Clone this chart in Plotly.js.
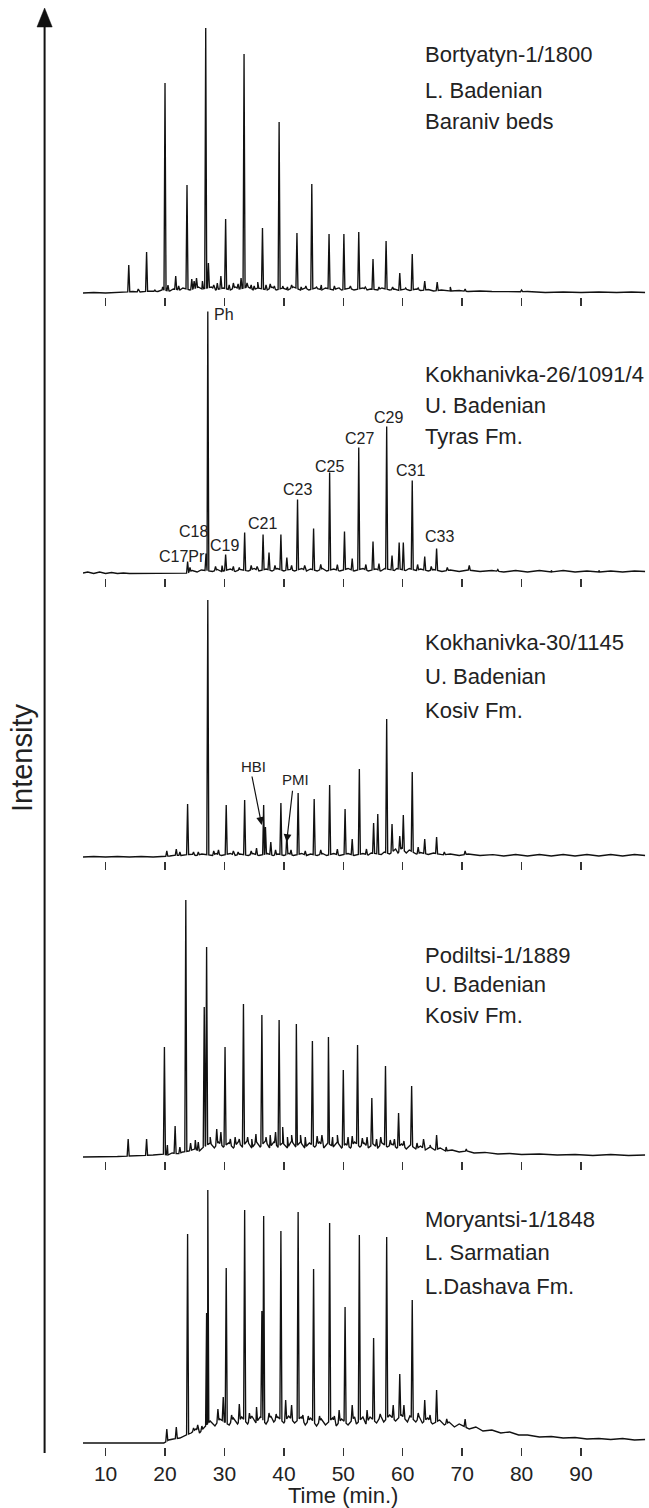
<!DOCTYPE html>
<html>
<head>
<meta charset="utf-8">
<script src="https://cdn.plot.ly/plotly-3.0.1.min.js"></script>
<style>
html,body{margin:0;padding:0;background:#fff;}
#chart{width:649px;height:1508px;}
</style>
</head>
<body>
<div id="chart"></div>
<script>
// ---------------- DATA ----------------
// Time axis
const tickTimes = [10, 20, 30, 40, 50, 60, 70, 80, 90];
const tickLabels = ['10', '20', '30', '40', '50', '60', '70', '80', '90'];
const axisTitle = 'Time (min.)';
const yTitle = 'Intensity';

// Sample captions (3 lines each)
const sampleName = ['Bortyatyn-1/1800', 'Kokhanivka-26/1091/4', 'Kokhanivka-30/1145', 'Podiltsi-1/1889', 'Moryantsi-1/1848'];
const sampleAge  = ['L. Badenian', 'U. Badenian', 'U. Badenian', 'U. Badenian', 'L. Sarmatian'];
const sampleFm   = ['Baraniv beds', 'Tyras Fm.', 'Kosiv Fm.', 'Kosiv Fm.', 'L.Dashava Fm.'];

// Peak labels (panel 2) and compound markers (panel 3)
const peakLabels = ['Ph', 'C17Pr', 'C18', 'C19', 'C21', 'C23', 'C25', 'C27', 'C29', 'C31', 'C33'];
const markerLabels = ['HBI', 'PMI'];
const markerTime = [36.27, 40.47];
const markerLevel = [32, 15];

// Panel 1: Bortyatyn-1/1800 — peak apex times (min) and apex intensities (rel. units)
const bortPeakT = [13.9, 15.5, 16.9, 18.3, 19.6, 20.0, 20.5, 21.8, 22.3, 23.7, 24.5, 24.9, 25.3, 26.3, 26.85, 27.3, 28.2, 28.8, 29.4, 30.2, 30.8, 31.5, 32.3, 32.8, 33.3, 33.8, 34.5, 35.0, 35.6, 36.4, 37.0, 37.7, 38.4, 39.2, 39.8, 40.6, 41.3, 42.2, 42.9, 43.7, 44.7, 45.5, 46.3, 47.6, 48.5, 49.3, 50.1, 51.2, 52.6, 53.7, 55.0, 56.0, 57.2, 58.3, 59.5, 60.5, 61.6, 62.6, 63.7, 65.8, 68.0, 70.5, 80.0];
const bortPeakI = [28, 4, 41, 3, 6, 210, 8, 17, 7, 108, 14, 12, 15, 12, 265, 30, 8, 10, 17, 74, 8, 10, 9, 15, 239, 10, 8, 7, 11, 65, 8, 9, 7, 171, 7, 6, 8, 60, 6, 7, 109, 6, 8, 59, 7, 5, 59, 7, 61, 6, 34, 6, 52, 6, 20, 5, 39, 5, 12, 11, 6, 4, 3];
const bortBaseT = [6.2, 8, 10, 12, 13.3, 14.6, 15.8, 17.6, 18.8, 19.5, 20.8, 21.4, 22.5, 23, 24.2, 25.6, 26.2, 27.8, 28.5, 29.8, 31, 31.8, 32.5, 34, 34.8, 35.6, 37.2, 38, 38.7, 39.8, 40.7, 41.6, 42.8, 43.6, 44.2, 45.3, 46.4, 47, 48.3, 49.2, 49.7, 51, 51.8, 53.3, 54, 54.6, 55.8, 56.5, 57.8, 58.6, 59.2, 60.4, 61.2, 62.3, 63, 64.3, 65.2, 66.5, 68, 69.5, 71, 73, 75, 78, 81, 84, 87, 90, 93, 96, 98.5, 100.8];
const bortBaseI = [0, 0.5, 0, 0.5, 1, 1.5, 1, 2, 1.5, 3, 2, 4, 3, 5, 3, 6, 4, 6, 3, 5, 3, 6, 4, 6, 3, 5, 3, 6, 3, 5, 3, 6, 3, 5, 3, 5, 3, 5, 3, 5, 3, 5, 3, 5, 3, 4, 3, 5, 3, 4, 2.5, 4, 2.5, 4, 2.5, 3.5, 2, 3, 2, 2.5, 1.5, 2, 1.5, 1, 1.5, 0.5, 1, 0.5, 1, 0.5, 1, 0.5];

// Panel 2: Kokhanivka-26/1091/4
const kok26PeakT = [23.8, 24.2, 26.9, 27.2, 28.5, 29.6, 30.2, 31.5, 32.5, 33.4, 34.5, 35.5, 36.5, 37.5, 38.5, 39.5, 40.5, 41.3, 42.3, 43.5, 45.0, 46.2, 47.7, 49.0, 50.2, 51.5, 52.6, 53.8, 55.0, 56.0, 57.3, 58.2, 59.4, 60.1, 61.6, 62.5, 63.7, 64.8, 65.7, 67.5, 71.2, 76.0, 85.0, 93.0];
const kok26PeakI = [12, 6, 20, 262, 7, 8, 19, 7, 6, 41, 8, 7, 39, 21, 8, 39, 16, 8, 74, 8, 45, 9, 101, 9, 42, 15, 126, 9, 32, 10, 147, 18, 31, 31, 93, 9, 17, 7, 25, 6, 8, 4, 3, 3];
const kok26BaseT = [6.2, 7, 8, 9, 10, 11, 12, 13, 14, 23.5, 24.6, 25.4, 26.1, 28, 28.8, 29.5, 31, 31.8, 32.6, 34, 35, 35.8, 37, 38, 38.9, 40, 41, 41.8, 43, 43.8, 44.5, 45.6, 46.5, 47.2, 48.4, 49.4, 50.8, 51.8, 53.3, 54.2, 55.5, 56.3, 57, 58.6, 59, 60.5, 61.1, 62.3, 63, 64.3, 65.2, 66.6, 68, 69.5, 71, 73, 75, 77, 79, 81, 83, 85, 87, 89, 91, 93, 95, 97, 99, 100.8];
const kok26BaseI = [0.5, 1.5, 0, 1.5, 0, 1, 0, 0.5, 0, 0, 3, 1.5, 3.5, 2, 4, 2, 4.5, 2, 4, 2.5, 5, 2.5, 4.5, 2.5, 5, 2.5, 4.5, 2.5, 5, 2.5, 4.5, 2.5, 5, 2.5, 4.5, 2.5, 5, 2.5, 5, 2.5, 4.5, 2.5, 5, 3, 5, 3, 5, 3, 4.5, 2.5, 4, 2, 3.5, 2, 3.5, 2, 3, 1.5, 3, 1.5, 3, 1.5, 3, 1.5, 2.5, 1.5, 2.5, 1.5, 2.5, 2];

// Panel 3: Kokhanivka-30/1145
const kok30PeakT = [20.3, 21.9, 22.5, 23.8, 24.8, 25.6, 27.2, 28.2, 29.0, 30.3, 31.5, 32.3, 33.4, 34.5, 35.4, 36.6, 36.9, 37.8, 38.6, 39.5, 40.5, 41.2, 42.4, 43.6, 45.1, 46.2, 47.7, 49.0, 50.3, 51.5, 52.7, 53.9, 55.1, 55.8, 57.3, 58.2, 59.5, 60.1, 61.6, 62.6, 63.7, 65.7, 67.0, 70.5, 75.0];
const kok30PeakI = [6, 8, 5, 53, 5, 5, 257, 6, 7, 52, 6, 5, 57, 6, 9, 52, 30, 15, 7, 54, 22, 7, 64, 6, 58, 7, 72, 8, 48, 18, 88, 8, 34, 43, 138, 33, 21, 42, 85, 10, 18, 20, 5, 6, 3];
const kok30BaseT = [6.2, 8, 10, 12, 14, 16, 18, 19.5, 20.8, 21.5, 22.7, 24.5, 25.2, 26.2, 28, 28.6, 29.5, 31, 31.8, 32.6, 34, 34.8, 35.8, 37.2, 38.2, 39, 40, 40.8, 41.6, 43, 43.8, 44.5, 45.6, 46.5, 47.2, 48.4, 49.4, 50.8, 51.8, 53.3, 54.2, 54.7, 56.4, 56.9, 57.8, 58.8, 59.2, 59.8, 60.6, 61.1, 62.3, 63, 64.3, 65.2, 66.6, 68, 69.5, 71, 73, 75, 77, 79, 81, 83, 85, 87, 89, 91, 93, 95, 97, 99, 100.8];
const kok30BaseI = [0, 0.5, 0, 0.5, 0, 0.5, 0, 0.5, 1, 2, 1.5, 3, 1.5, 3, 1.5, 3.5, 1.5, 3.5, 1.5, 3, 1.5, 3.5, 1.5, 3.5, 1.5, 3, 1.5, 3.5, 1.5, 3.5, 1.5, 3, 1.5, 3.5, 1.5, 3.5, 1.5, 3.5, 1.5, 3.5, 2, 4, 2.5, 5, 3, 8, 4, 9, 4, 7, 3, 4.5, 2.5, 4, 2, 3, 1.5, 3, 1.5, 2.5, 1, 2.5, 1, 2.5, 1, 2.5, 1, 2.5, 1, 2.5, 1, 2.5, 1.5];

// Panel 4: Podiltsi-1/1889
const podPeakT = [13.8, 16.9, 19.9, 20.4, 21.7, 22.5, 23.5, 24.3, 25.1, 25.6, 26.6, 27.0, 27.6, 28.7, 29.4, 30.1, 31.0, 31.8, 32.5, 33.2, 33.9, 34.6, 35.3, 36.3, 37.0, 37.7, 38.6, 39.2, 39.8, 40.6, 41.3, 42.1, 42.8, 43.6, 44.8, 45.6, 46.4, 47.5, 48.2, 49.0, 50.0, 50.8, 51.5, 52.4, 53.2, 54.0, 54.8, 55.6, 56.3, 57.1, 57.9, 58.6, 59.3, 60.2, 61.5, 62.4, 63.5, 64.6, 65.7, 67.3, 70.7, 74.0];
const podPeakI = [18, 18, 110, 12, 31, 10, 257, 14, 17, 15, 150, 210, 20, 28, 25, 110, 18, 20, 18, 153, 20, 18, 23, 142, 20, 22, 25, 137, 30, 20, 22, 133, 22, 20, 116, 21, 22, 120, 20, 22, 87, 20, 21, 112, 19, 20, 59, 18, 20, 91, 17, 18, 44, 16, 71, 14, 18, 12, 22, 10, 8, 5];
const podBaseT = [6.2, 9, 12, 14, 16, 18, 19.5, 20.5, 21.2, 22.2, 23, 24, 25, 25.8, 26.3, 27.6, 28.3, 29, 29.8, 30.7, 31.5, 32.3, 33, 33.8, 34.6, 35.4, 36, 36.9, 37.6, 38.3, 39, 39.8, 40.6, 41.3, 42, 42.8, 43.5, 44.3, 45.2, 46, 46.7, 47.4, 48.3, 49, 49.7, 50.4, 51.2, 51.9, 52.8, 53.5, 54.2, 55, 55.8, 56.5, 57.4, 58.2, 59, 59.8, 60.6, 61.3, 62.2, 63, 63.8, 64.6, 65.4, 66.3, 67.2, 68.3, 69.5, 70.8, 72, 74, 76, 78, 80, 83, 86, 89, 92, 95, 98, 100.8];
const podBaseI = [0, 0, 0.5, 1, 1.5, 2, 3, 2, 4, 3, 5, 6, 8, 6, 9, 14, 9, 15, 10, 14, 9, 15, 10, 16, 9, 15, 10, 16, 9, 15, 10, 14, 9, 16, 10, 15, 9, 14, 10, 15, 9, 14, 10, 15, 9, 13, 9, 15, 10, 14, 9, 13, 9, 14, 10, 13, 9, 13, 8, 12, 8, 11, 7, 10, 7, 9, 6, 7, 5, 6, 4, 4.5, 3, 3.5, 2.5, 3, 2, 2.5, 1.5, 2.5, 1.5, 2];

// Panel 5: Moryantsi-1/1848
const morPeakT = [20.3, 21.9, 23.8, 24.8, 25.5, 26.2, 27.0, 27.2, 28.9, 29.8, 30.3, 31.2, 32.5, 33.4, 34.2, 35.4, 36.3, 36.6, 37.5, 38.7, 39.5, 40.3, 41.3, 42.4, 43.2, 44.1, 45.0, 46.0, 47.7, 48.5, 49.3, 50.3, 51.5, 52.7, 54.0, 55.1, 56.2, 57.3, 58.4, 59.5, 60.2, 61.6, 62.6, 63.7, 64.6, 65.7, 67.4, 70.5, 77.5];
const morPeakI = [14, 16, 209, 15, 18, 17, 130, 253, 34, 46, 175, 28, 39, 233, 30, 36, 132, 227, 30, 29, 212, 43, 38, 231, 28, 27, 174, 27, 220, 27, 33, 136, 38, 208, 33, 105, 29, 206, 38, 69, 38, 143, 30, 43, 28, 53, 24, 24, 11];
const morBaseT = [6.2, 9, 12, 15, 18, 19.8, 20.6, 21.4, 22.5, 23.2, 24.4, 25.2, 25.8, 26.5, 27.6, 28.4, 29.2, 30.8, 31.5, 32.2, 32.9, 33.9, 34.6, 35.3, 36, 37, 37.8, 38.3, 39, 40, 40.8, 41.8, 42.9, 43.6, 44.5, 45.5, 46.3, 47, 48.2, 48.8, 49.7, 50.8, 51.9, 52.2, 53.3, 53.8, 54.5, 55.6, 56.3, 56.8, 57.8, 58.8, 59.8, 60.8, 61.2, 62.2, 62.8, 63.3, 64.2, 65, 66.2, 67, 67.8, 68.7, 69.5, 71.2, 72.3, 73.5, 75, 76.5, 78, 79.5, 81, 83, 85, 87, 89, 91, 93, 95, 97, 99, 100.8];
const morBaseI = [0, 0, 0, 0, 0, 0, 3, 4, 5, 7, 10, 14, 10, 15, 22, 17, 24, 18, 25, 19, 26, 19, 27, 20, 26, 19, 27, 21, 26, 20, 27, 20, 26, 18, 25, 17, 24, 18, 25, 17, 24, 18, 26, 19, 26, 19, 26, 20, 27, 21, 28, 22, 28, 21, 27, 21, 26, 20, 25, 19, 23, 18, 21, 16, 19, 14, 16, 12, 13, 10, 11, 8, 8, 6, 6.5, 5, 5.5, 4, 4.5, 3.5, 4.5, 3, 3.5];

// ---------------- LAYOUT CONSTANTS ----------------
const W = 649, H = 1508;
const xRange = [6.2, 100.8];
const xDomPx = [83, 645.2];
const baselinePx = [293, 573.5, 857, 1157, 1443];
const yTopUnits = 272, yBotUnits = 4;
const captionX = 423;
const captionY = [[55, 90, 122], [374, 405, 437], [643, 676, 710], [955, 984, 1015], [1219, 1252, 1286]];
const peakLabelPos = [[212, 315, 'left'], [182, 556, 'center'], [193, 531, 'center'], [224, 545, 'center'], [262, 523, 'center'], [297, 489, 'center'], [329, 466, 'center'], [359, 438, 'center'], [388, 417, 'center'], [410, 471, 'center'], [439, 537, 'center']];
const markerLabelPos = [[253, 767], [295, 779]];
const markerTail = [[251.7, 775], [292.7, 789.3]];
const FONT = 'Liberation Sans, Arial, Helvetica, sans-serif';

const px = x => x / W;
const py = y => 1 - y / H;

// ---------------- BUILD TRACES ----------------
function baseAt(bt, bi, t) {
  if (t <= bt[0]) return bi[0];
  for (let i = 1; i < bt.length; i++) {
    if (t <= bt[i]) {
      const f = (t - bt[i - 1]) / (bt[i] - bt[i - 1]);
      return bi[i - 1] + f * (bi[i] - bi[i - 1]);
    }
  }
  return bi[bi.length - 1];
}
function buildTrace(pt, pi, bt, bi) {
  const w = 0.17;
  const pts = [];
  for (let i = 0; i < bt.length; i++) pts.push([bt[i], bi[i]]);
  for (let i = 0; i < pt.length; i++) {
    pts.push([pt[i] - w, baseAt(bt, bi, pt[i] - w)]);
    pts.push([pt[i], pi[i]]);
    pts.push([pt[i] + w, baseAt(bt, bi, pt[i] + w)]);
  }
  pts.sort((a, b) => a[0] - b[0]);
  return { x: pts.map(p => p[0]), y: pts.map(p => p[1]) };
}

const panels = [
  [bortPeakT, bortPeakI, bortBaseT, bortBaseI],
  [kok26PeakT, kok26PeakI, kok26BaseT, kok26BaseI],
  [kok30PeakT, kok30PeakI, kok30BaseT, kok30BaseI],
  [podPeakT, podPeakI, podBaseT, podBaseI],
  [morPeakT, morPeakI, morBaseT, morBaseI]
];

const traces = [];
const layout = {
  width: W, height: H,
  margin: { l: 0, r: 0, t: 0, b: 0 },
  paper_bgcolor: '#ffffff',
  plot_bgcolor: 'rgba(0,0,0,0)',
  showlegend: false,
  font: { family: FONT, color: '#222' },
  shapes: [],
  annotations: []
};

panels.forEach((p, k) => {
  const sfx = k === 0 ? '' : String(k + 1);
  const d = buildTrace(p[0], p[1], p[2], p[3]);
  traces.push({
    type: 'scatter', mode: 'lines', x: d.x, y: d.y,
    xaxis: 'x' + sfx, yaxis: 'y' + sfx,
    line: { color: '#111', width: 1.35 },
    hoverinfo: 'skip'
  });
  const B = baselinePx[k];
  layout['xaxis' + sfx] = {
    domain: [px(xDomPx[0]), px(xDomPx[1])],
    range: xRange, fixedrange: true,
    anchor: 'y' + sfx,
    showgrid: false, zeroline: false, showline: false,
    tickmode: 'array', tickvals: tickTimes, ticktext: tickLabels,
    ticks: 'outside', ticklen: 8, tickwidth: 1.5, tickcolor: '#333',
    showticklabels: k === 4,
    tickfont: { family: FONT, size: 21, color: '#222' }
  };
  layout['yaxis' + sfx] = {
    domain: [py(B + yBotUnits), py(B - yTopUnits)],
    range: [-yBotUnits, yTopUnits], fixedrange: true,
    anchor: 'x' + sfx,
    showgrid: false, zeroline: false, showline: false,
    showticklabels: false, ticks: ''
  };
  // captions
  const lines = [sampleName[k], sampleAge[k], sampleFm[k]];
  lines.forEach((txt, j) => {
    layout.annotations.push({
      xref: 'paper', yref: 'paper', x: px(captionX), y: py(captionY[k][j]),
      xanchor: 'left', yanchor: 'middle', showarrow: false,
      text: txt, font: { family: FONT, size: 22, color: '#222' }
    });
  });
});

// Peak labels on panel 2
peakLabels.forEach((txt, i) => {
  const pos = peakLabelPos[i];
  layout.annotations.push({
    xref: 'paper', yref: 'paper', x: px(pos[0]), y: py(pos[1]),
    xanchor: pos[2], yanchor: 'middle', showarrow: false,
    text: txt, font: { family: FONT, size: 16, color: '#222' }
  });
});

// HBI / PMI markers on panel 3 with arrows pointing to peaks
markerLabels.forEach((txt, i) => {
  const pos = markerLabelPos[i];
  layout.annotations.push({
    xref: 'paper', yref: 'paper', x: px(pos[0]), y: py(pos[1]),
    xanchor: 'center', yanchor: 'middle', showarrow: false,
    text: txt, font: { family: FONT, size: 15, color: '#222' }
  });
  const tipXpx = xDomPx[0] + (markerTime[i] - xRange[0]) / (xRange[1] - xRange[0]) * (xDomPx[1] - xDomPx[0]);
  const tipYpx = baselinePx[2] - markerLevel[i];
  layout.annotations.push({
    xref: 'x3', yref: 'y3', x: markerTime[i], y: markerLevel[i],
    ax: markerTail[i][0] - tipXpx, ay: markerTail[i][1] - tipYpx,
    axref: 'pixel', ayref: 'pixel',
    text: '', showarrow: true, arrowhead: 2, arrowsize: 1.3, arrowwidth: 1.2,
    arrowcolor: '#111', standoff: 0
  });
});

// Axis title & Intensity label
layout.annotations.push({
  xref: 'paper', yref: 'paper', x: px(343), y: py(1495),
  xanchor: 'center', yanchor: 'middle', showarrow: false,
  text: axisTitle, font: { family: FONT, size: 22, color: '#222' }
});
layout.annotations.push({
  xref: 'paper', yref: 'paper', x: px(22), y: py(758),
  xanchor: 'center', yanchor: 'middle', showarrow: false, textangle: -90,
  text: yTitle, font: { family: FONT, size: 29, color: '#222' }
});

// Intensity arrow
layout.shapes.push({
  type: 'line', xref: 'paper', yref: 'paper',
  x0: px(44.6), y0: py(1453), x1: px(44.6), y1: py(24),
  line: { color: '#111', width: 2 }
});
layout.shapes.push({
  type: 'path', xref: 'paper', yref: 'paper',
  path: 'M ' + px(44.6) + ',' + py(8) + ' L ' + px(37) + ',' + py(27) + ' L ' + px(52.2) + ',' + py(27) + ' Z',
  fillcolor: '#111', line: { color: '#111', width: 0.5 }
});

Plotly.newPlot('chart', traces, layout, { staticPlot: true, displayModeBar: false });
</script>
</body>
</html>
